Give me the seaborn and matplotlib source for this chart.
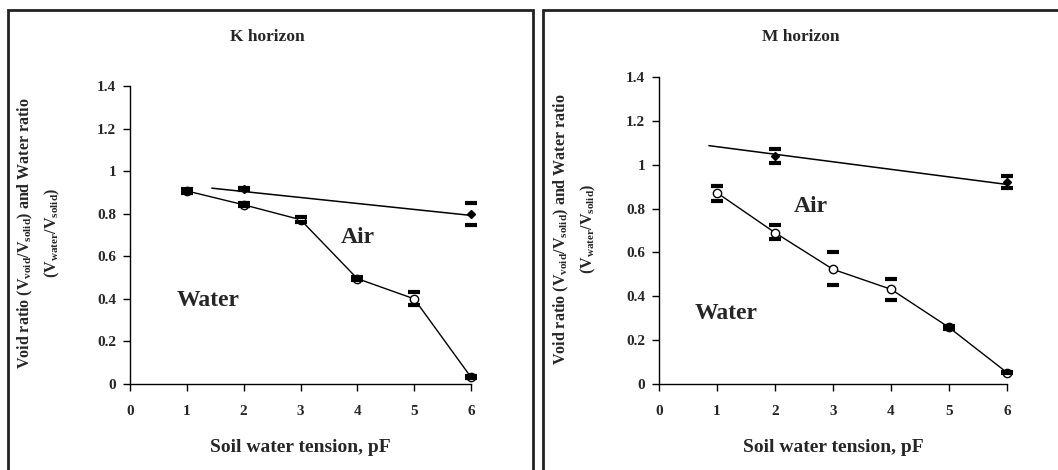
import numpy as np
import matplotlib
matplotlib.use("Agg")
import matplotlib.pyplot as plt
import seaborn as sns
from matplotlib.patches import Rectangle

# -----------------------------
# DATA
# -----------------------------
pf = [1, 2, 3, 4, 5, 6]

# K horizon
k_water = [0.907, 0.842, 0.772, 0.495, 0.400, 0.032]
k_water_hi = [0.918, 0.852, 0.785, 0.502, 0.430, 0.036]
k_water_lo = [0.898, 0.835, 0.760, 0.490, 0.370, 0.028]
k_void_x = [2, 6]
k_void = [0.915, 0.797]
k_void_hi = [0.922, 0.850]
k_void_lo = [0.910, 0.745]
k_fit_x = [1.44, 6.0]
k_fit_y = [0.920, 0.792]

# M horizon
m_water = [0.872, 0.690, 0.523, 0.432, 0.258, 0.052]
m_water_hi = [0.905, 0.725, 0.600, 0.478, 0.264, 0.056]
m_water_lo = [0.835, 0.660, 0.450, 0.383, 0.252, 0.048]
m_void_x = [2, 6]
m_void = [1.040, 0.922]
m_void_hi = [1.072, 0.950]
m_void_lo = [1.010, 0.895]
m_fit_x = [0.86, 6.0]
m_fit_y = [1.087, 0.910]

xticks = [0, 1, 2, 3, 4, 5, 6]
yticks = [0, 0.2, 0.4, 0.6, 0.8, 1.0, 1.2, 1.4]
yticklabels = ["0", "0.2", "0.4", "0.6", "0.8", "1", "1.2", "1.4"]

# -----------------------------
# STYLE
# -----------------------------
sns.set_theme(style="ticks")
plt.rcParams['font.family'] = ['Liberation Serif', 'DejaVu Serif']
plt.rcParams['font.weight'] = 'bold'
plt.rcParams['mathtext.fontset'] = 'custom'
plt.rcParams['mathtext.rm'] = 'Liberation Serif:bold'
plt.rcParams['mathtext.it'] = 'Liberation Serif:bold'
plt.rcParams['mathtext.bf'] = 'Liberation Serif:bold'

fig = plt.figure(figsize=(10.58, 4.70), dpi=100)

# panel frames
fig.patches.append(Rectangle((8 / 1058, -0.05), (533 - 8) / 1058, (470 - 10) / 470 + 0.05,
                             transform=fig.transFigure, fill=False, edgecolor='#222222', lw=2))
fig.patches.append(Rectangle((543 / 1058, -0.05), 0.5, (470 - 10) / 470 + 0.05,
                             transform=fig.transFigure, fill=False, edgecolor='#222222', lw=2))

ax1 = fig.add_axes([130 / 1058, 86 / 470, 341 / 1058, 298 / 470])
ax2 = fig.add_axes([659 / 1058, 86 / 470, 348 / 1058, 307 / 470])


def draw_panel(ax, water, w_hi, w_lo, vx, void, v_hi, v_lo, fx, fy):
    # fitted line for void ratio
    sns.lineplot(x=fx, y=fy, ax=ax, color='black', lw=1.1)
    # water ratio line + open circles
    sns.lineplot(x=pf, y=water, ax=ax, color='black', lw=1.0,
                 marker='o', markersize=6, markerfacecolor='white',
                 markeredgecolor='black', markeredgewidth=1.0)
    # void points
    ax.plot(vx, void, ls='none', marker='D', markersize=4, color='black')
    # error caps
    for hi_lo_x, vals in [(pf, w_hi), (pf, w_lo), (vx, v_hi), (vx, v_lo)]:
        ax.plot(hi_lo_x, vals, ls='none', marker='_', markersize=8, mew=3, color='black')
    for ln in ax.lines:
        ln.set_clip_on(False)

    ax.set_xlim(0, 6)
    ax.set_ylim(0, 1.4)
    ax.set_xticks(xticks)
    ax.set_yticks(yticks)
    ax.set_yticklabels(yticklabels)
    ax.tick_params(labelsize=11, length=5, width=1, color='black')
    ax.tick_params(axis='x', pad=10)
    ax.tick_params(axis='y', pad=5)
    for lab in ax.get_xticklabels() + ax.get_yticklabels():
        lab.set_fontweight('bold')
    sns.despine(ax=ax)
    for s in ['left', 'bottom']:
        ax.spines[s].set_linewidth(1)
        ax.spines[s].set_color('black')
    ax.patch.set_alpha(0)


draw_panel(ax1, k_water, k_water_hi, k_water_lo, k_void_x, k_void,
           k_void_hi, k_void_lo, k_fit_x, k_fit_y)
draw_panel(ax2, m_water, m_water_hi, m_water_lo, m_void_x, m_void,
           m_void_hi, m_void_lo, m_fit_x, m_fit_y)

ylab = "Void ratio (V$_{void}$/V$_{solid}$) and Water ratio\n(V$_{water}$/V$_{solid}$)"

# K horizon texts
fig.text(267 / 1058, 1 - 37 / 470, "K horizon", ha='center', va='center', fontsize=12.5, fontweight='bold')
fig.text(300 / 1058, 1 - 447 / 470, "Soil water tension, pF", ha='center', va='center',
         fontsize=14, fontweight='bold')
fig.text(39 / 1058, 1 - 233 / 470, ylab, ha='center', va='center', rotation=90,
         fontsize=11.5, fontweight='bold', linespacing=1.6)
ax1.text(4.0, 0.69, "Air", ha='center', va='center', fontsize=17, fontweight='bold')
ax1.text(1.37, 0.39, "Water", ha='center', va='center', fontsize=17, fontweight='bold')

# M horizon texts
fig.text(801 / 1058, 1 - 37 / 470, "M horizon", ha='center', va='center', fontsize=12.5, fontweight='bold')
fig.text(833 / 1058, 1 - 447 / 470, "Soil water tension, pF", ha='center', va='center',
         fontsize=14, fontweight='bold')
fig.text(575 / 1058, 1 - 229 / 470, ylab, ha='center', va='center', rotation=90,
         fontsize=11.5, fontweight='bold', linespacing=1.6)
ax2.text(2.62, 0.81, "Air", ha='center', va='center', fontsize=17, fontweight='bold')
ax2.text(1.15, 0.32, "Water", ha='center', va='center', fontsize=17, fontweight='bold')

fig.savefig("out.png", dpi=100)
